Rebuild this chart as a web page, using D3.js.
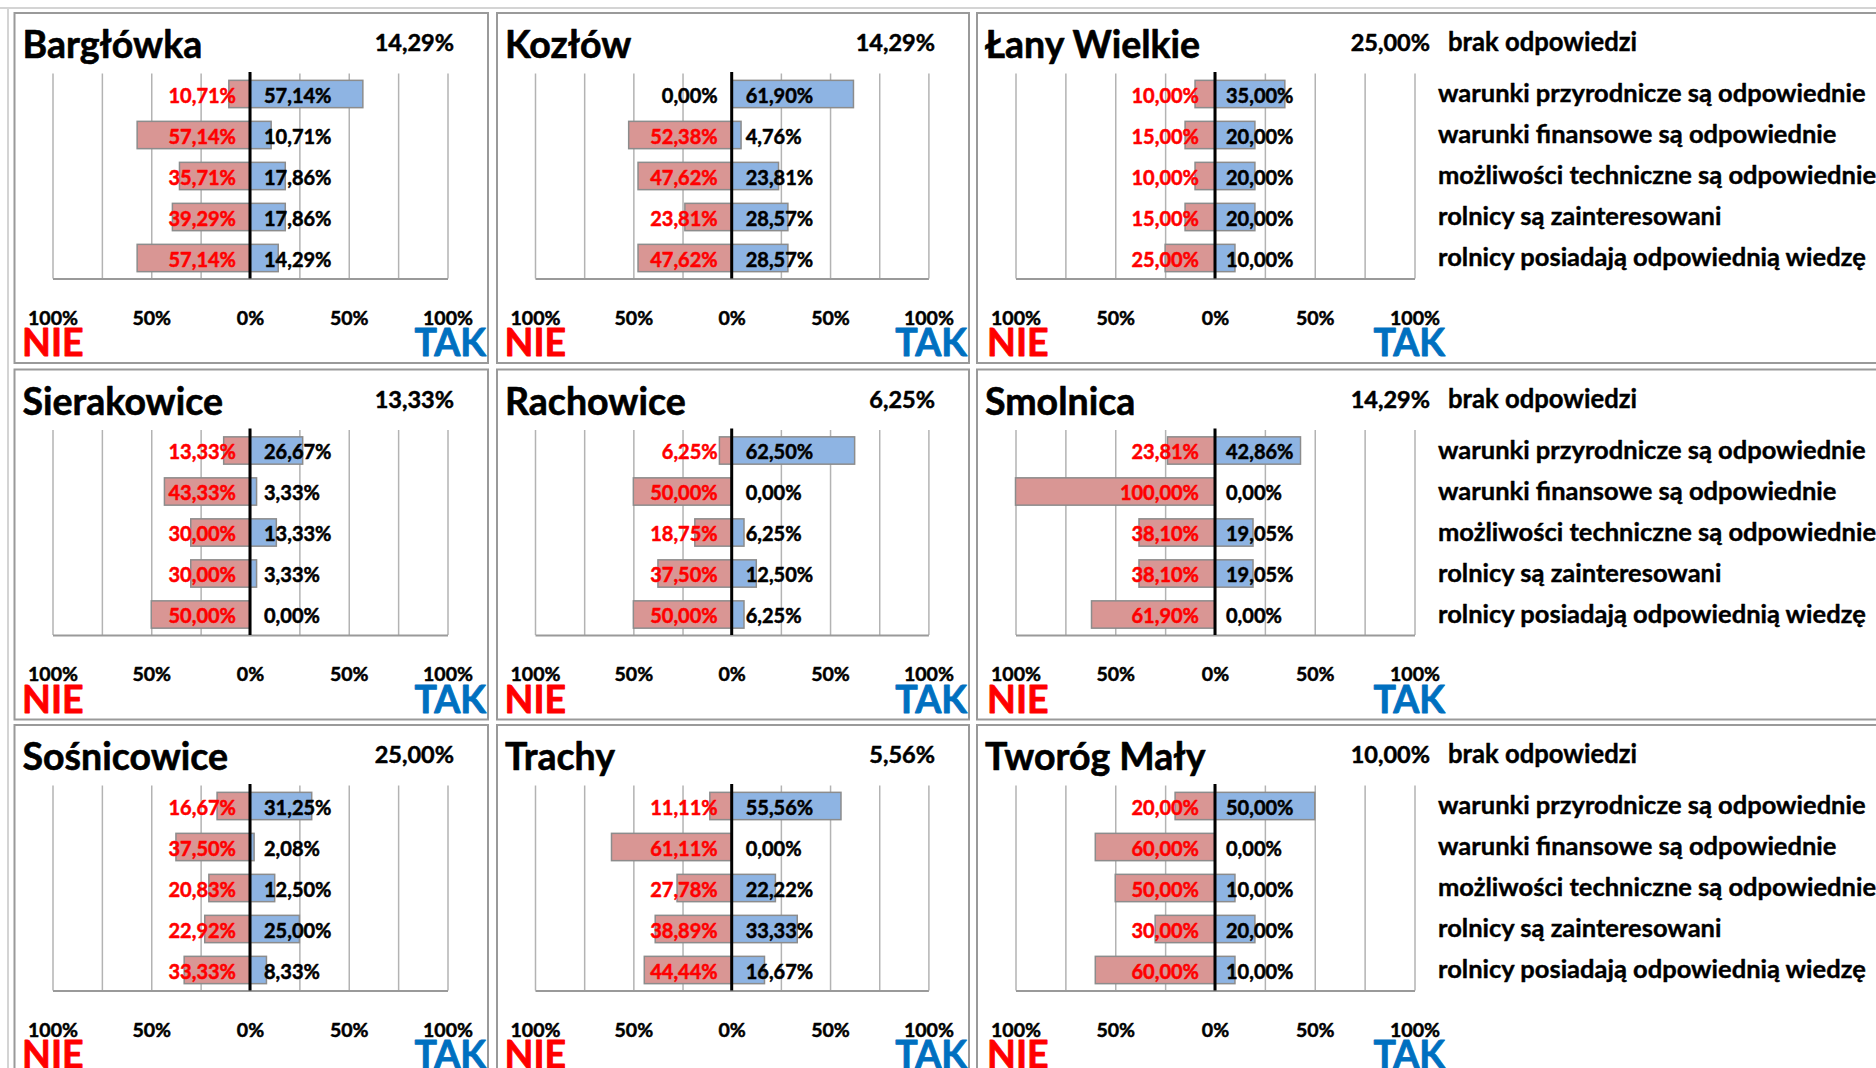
<!DOCTYPE html>
<html><head><meta charset="utf-8">
<script src="https://cdn.jsdelivr.net/npm/d3@7"></script>
<style>
html,body{margin:0;padding:0;background:#fff;overflow:hidden}
svg text{font-family:Lato,'Open Sans',sans-serif;font-weight:700}
</style>
</head><body>
<svg id="c" width="1876" height="1068"></svg>
<script>
// ---- data ----
const categories = [
  "warunki przyrodnicze są odpowiednie",
  "warunki finansowe są odpowiednie",
  "możliwości techniczne są odpowiednie",
  "rolnicy są zainteresowani",
  "rolnicy posiadają odpowiednią wiedzę"
];
const places = ["Bargłówka","Kozłów","Łany Wielkie","Sierakowice","Rachowice","Smolnica","Sośnicowice","Trachy","Tworóg Mały"];
const noAnswer = [14.29,14.29,25.00,13.33,6.25,14.29,25.00,5.56,10.00];
const nieValues = [
  [10.71,57.14,35.71,39.29,57.14],
  [0.00,52.38,47.62,23.81,47.62],
  [10.00,15.00,10.00,15.00,25.00],
  [13.33,43.33,30.00,30.00,50.00],
  [6.25,50.00,18.75,37.50,50.00],
  [23.81,100.00,38.10,38.10,61.90],
  [16.67,37.50,20.83,22.92,33.33],
  [11.11,61.11,27.78,38.89,44.44],
  [20.00,60.00,50.00,30.00,60.00]
];
const takValues = [
  [57.14,10.71,17.86,17.86,14.29],
  [61.90,4.76,23.81,28.57,28.57],
  [35.00,20.00,20.00,20.00,10.00],
  [26.67,3.33,13.33,3.33,0.00],
  [62.50,0.00,6.25,12.50,6.25],
  [42.86,0.00,19.05,19.05,0.00],
  [31.25,2.08,12.50,25.00,8.33],
  [55.56,0.00,22.22,33.33,16.67],
  [50.00,0.00,10.00,20.00,10.00]
];
const tickValues = [-100,-50,0,50,100];
const tickLabels = ["100%","50%","0%","50%","100%"];
const gridValues = [-100,-75,-50,-25,0,25,50,75,100];
const sideLabels = ["NIE","TAK"];
const noAnswerLabel = "brak odpowiedzi";

// ---- layout ----
const svg = d3.select("#c");
const colLeft = [14.5, 497, 977];
const colRight = [488, 969, 1910];
const colZero = [250, 731.7, 1215];
const colUnit = [197.5, 196.7, 199.5];
const rowTop = [13, 369.5, 725];
const panelH = 350;
const fmt = v => d3.format(".2f")(v).replace(".", ",") + "%";

// outer light frame
svg.append("line").attr("x1",0).attr("x2",1876).attr("y1",8).attr("y2",8)
  .attr("stroke","#d4d4d4").attr("stroke-width",2);
svg.append("line").attr("x1",8).attr("x2",8).attr("y1",8).attr("y2",1068)
  .attr("stroke","#d4d4d4").attr("stroke-width",2);

function heavy(sel, w) {
  sel.attr("stroke", function(){ return d3.select(this).attr("fill"); })
     .attr("stroke-width", w).attr("stroke-linejoin", "round");
  return sel;
}

places.forEach((place, i) => {
  const r = Math.floor(i / 3), c = i % 3;
  const top = rowTop[r], left = colLeft[c], right = colRight[c];
  const g = svg.append("g");
  g.append("rect").attr("x", left).attr("y", top)
    .attr("width", right - left).attr("height", panelH)
    .attr("fill", "#fff").attr("stroke", "#9a9a9a").attr("stroke-width", 2);

  const x = d3.scaleLinear().domain([-100, 100])
    .range([colZero[c] - colUnit[c], colZero[c] + colUnit[c]]);
  const plotTop = top + 60.5, plotBot = top + 265.5;
  const y = d3.scaleBand().domain(categories).range([plotTop, plotBot])
    .paddingInner(0.334).paddingOuter(0.167);
  const bw = y.bandwidth();

  // gridlines
  const grid = g.append("g").attr("transform", `translate(0,${plotBot})`)
    .call(d3.axisBottom(x).tickValues(gridValues).tickSize(-(plotBot - plotTop)).tickFormat(""));
  grid.select(".domain").remove();
  grid.selectAll(".tick line").attr("stroke", "#b3b3b3").attr("stroke-width", 1.5);

  const nie = nieValues[i], tak = takValues[i];
  // bars
  g.selectAll(".nie").data(categories.map((k, j) => ({k, v: nie[j]})).filter(d => d.v > 0))
    .enter().append("rect")
    .attr("x", d => x(-d.v)).attr("y", d => y(d.k))
    .attr("width", d => x(0) - x(-d.v)).attr("height", bw)
    .attr("fill", "#D99694").attr("stroke", "#8c8c8c").attr("stroke-width", 1.5);
  g.selectAll(".tak").data(categories.map((k, j) => ({k, v: tak[j]})).filter(d => d.v > 0))
    .enter().append("rect")
    .attr("x", x(0)).attr("y", d => y(d.k))
    .attr("width", d => x(d.v) - x(0)).attr("height", bw)
    .attr("fill", "#8EB4E3").attr("stroke", "#8c8c8c").attr("stroke-width", 1.5);

  // axis with tick labels
  const ax = g.append("g").attr("transform", `translate(0,${plotBot})`)
    .call(d3.axisBottom(x).tickValues(tickValues).tickSize(0)
      .tickFormat((d, j) => tickLabels[j]));
  ax.select(".domain").attr("stroke", "#9a9a9a").attr("stroke-width", 2);
  heavy(ax.selectAll(".tick text").attr("y", 46).attr("dy", 0)
    .style("font-family", "Lato,'Open Sans',sans-serif").style("font-weight", 700)
    .style("font-size", "19.5px").attr("fill", "#000"), 0.5);

  // zero line
  g.append("line").attr("x1", x(0)).attr("x2", x(0))
    .attr("y1", plotTop - 1.5).attr("y2", plotBot)
    .attr("stroke", "#000").attr("stroke-width", 3);

  // value labels
  const offL = c === 2 ? 16 : 14, offR = c === 2 ? 11 : 14;
  categories.forEach((k, j) => {
    const cy = y(k) + bw / 2 + 8.5;
    heavy(g.append("text").attr("x", x(0) - offL).attr("y", cy).attr("text-anchor", "end")
      .attr("font-size", 20).attr("fill", nie[j] > 0 ? "#FF0000" : "#000").text(fmt(nie[j])), 0.5);
    heavy(g.append("text").attr("x", x(0) + offR).attr("y", cy).attr("text-anchor", "start")
      .attr("font-size", 20).attr("fill", "#000").text(fmt(tak[j])), 0.5);
    if (c === 2) {
      heavy(g.append("text").attr("x", 1438).attr("y", y(k) + bw / 2 + 8)
        .attr("font-size", 25.5).attr("fill", "#000").text(k), 0.4);
    }
  });

  // title and no-answer share
  heavy(g.append("text").attr("x", left + 8).attr("y", top + 45)
    .attr("font-size", 37.5).attr("fill", "#000").text(place), 0.6);
  const pctX = c === 2 ? 1430 : right - 34;
  heavy(g.append("text").attr("x", pctX).attr("y", top + 38).attr("text-anchor", "end")
    .attr("font-size", 23.5).attr("fill", "#000").text(fmt(noAnswer[i])), 0.5);
  if (c === 2) {
    heavy(g.append("text").attr("x", 1448).attr("y", top + 38)
      .attr("font-size", 26).attr("fill", "#000")
      .attr("textLength", 189).attr("lengthAdjust", "spacingAndGlyphs")
      .text(noAnswerLabel), 0.4);
  }

  // NIE / TAK
  heavy(g.append("text").attr("x", x(-100) - (c === 2 ? 28.5 : 30.5)).attr("y", top + 343)
    .attr("font-size", 37.5).attr("fill", "#FF0000").text(sideLabels[0]), 0.8);
  heavy(g.append("text").attr("x", x(100) + (c === 2 ? 30.5 : 38.5)).attr("y", top + 343)
    .attr("text-anchor", "end")
    .attr("font-size", 37.5).attr("fill", "#0070C0").text(sideLabels[1]), 0.8);
});
</script>
</body></html>
